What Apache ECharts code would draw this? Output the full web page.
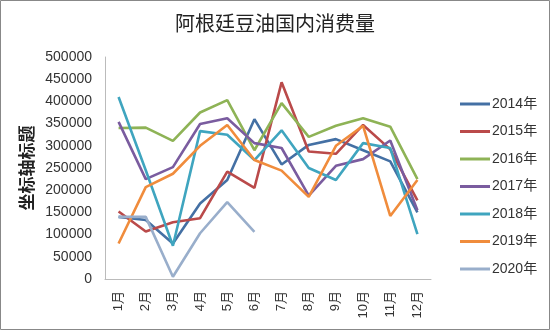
<!DOCTYPE html>
<html><head><meta charset="utf-8">
<script src="https://cdn.jsdelivr.net/npm/echarts@6/dist/echarts.min.js"></script>
<style>html,body{margin:0;padding:0;background:#fff}#c{width:550px;height:330px}</style>
</head><body><div id="c"></div>
<script>
const months = ['1月','2月','3月','4月','5月','6月','7月','8月','9月','10月','11月','12月'];
const seriesNames = ['2014年','2015年','2016年','2017年','2018年','2019年','2020年'];
const y2014 = [140000,133000,80000,170000,223000,360000,258000,302000,315000,290000,265000,150000];
const y2015 = [152000,107000,128000,137000,242000,205000,443000,287000,282000,347000,292000,177000];
const y2016 = [340000,341000,311000,375000,403000,290000,396000,320000,345000,362000,343000,225000];
const y2017 = [354000,225000,252000,349000,362000,306000,295000,188000,255000,270000,312000,155000];
const y2018 = [410000,245000,75000,333000,325000,268000,335000,250000,223000,306000,295000,101000];
const y2019 = [80000,207000,237000,300000,347000,268000,244000,185000,300000,345000,142000,223000];
const y2020 = [140000,140000,5000,103000,173000,106000];
const yTicks = [0,50000,100000,150000,200000,250000,300000,350000,400000,450000,500000];
const colors = ['#4470A4','#BA4A4A','#8EB356','#7A5C9F','#3FA5BF','#F08C3C','#99AECB'];
const allData = [y2014,y2015,y2016,y2017,y2018,y2019,y2020];

const chart = echarts.init(document.getElementById('c'));
chart.setOption({
  animation:false,
  color: colors,
  title:{text:'阿根廷豆油国内消费量',left:'center',top:8,
    textStyle:{fontFamily:'Noto Sans CJK SC',fontSize:20,fontWeight:'normal',color:'#222'}},
  graphic:[{type:'rect',shape:{x:0.5,y:0.5,width:549,height:329},style:{fill:'none',stroke:'#888',lineWidth:1}}],
  legend:{orient:'vertical',left:455,top:92,itemGap:13.5,itemWidth:30,itemHeight:14,
    data:seriesNames.map(n=>({name:n,icon:'path://M0,6 L30,6 L30,9 L0,9 Z'})),
    textStyle:{fontFamily:'Liberation Sans, Noto Sans CJK SC',fontSize:14,color:'#333',padding:[0,0,0,-3]}},
  grid:{left:105,right:119,top:57,bottom:51},
  xAxis:{type:'category',data:months,boundaryGap:true,
    axisLine:{lineStyle:{color:'#BBB',width:1}},axisTick:{show:false},
    axisLabel:{rotate:90,fontFamily:'Liberation Sans, Noto Sans CJK SC',fontSize:13,color:'#333',margin:12}},
  yAxis:{type:'value',min:yTicks[0],max:yTicks[yTicks.length-1],interval:50000,
    name:'坐标轴标题',nameLocation:'middle',nameGap:70,nameRotate:90,nameMoveOverlap:false,
    nameTextStyle:{fontFamily:'Noto Sans CJK SC',fontSize:17,fontWeight:'bold',color:'#222'},
    splitLine:{show:false},axisTick:{show:false},
    axisLine:{show:true,lineStyle:{color:'#BBB',width:1}},
    axisLabel:{fontFamily:'Liberation Sans',fontSize:14,color:'#333',margin:13,formatter:v=>String(v)}},
  series: seriesNames.map((n,i)=>({name:n,type:'line',data:allData[i],symbol:'none',
    lineStyle:{width:2.6,color:colors[i]},itemStyle:{color:colors[i]}}))
});
</script></body></html>
